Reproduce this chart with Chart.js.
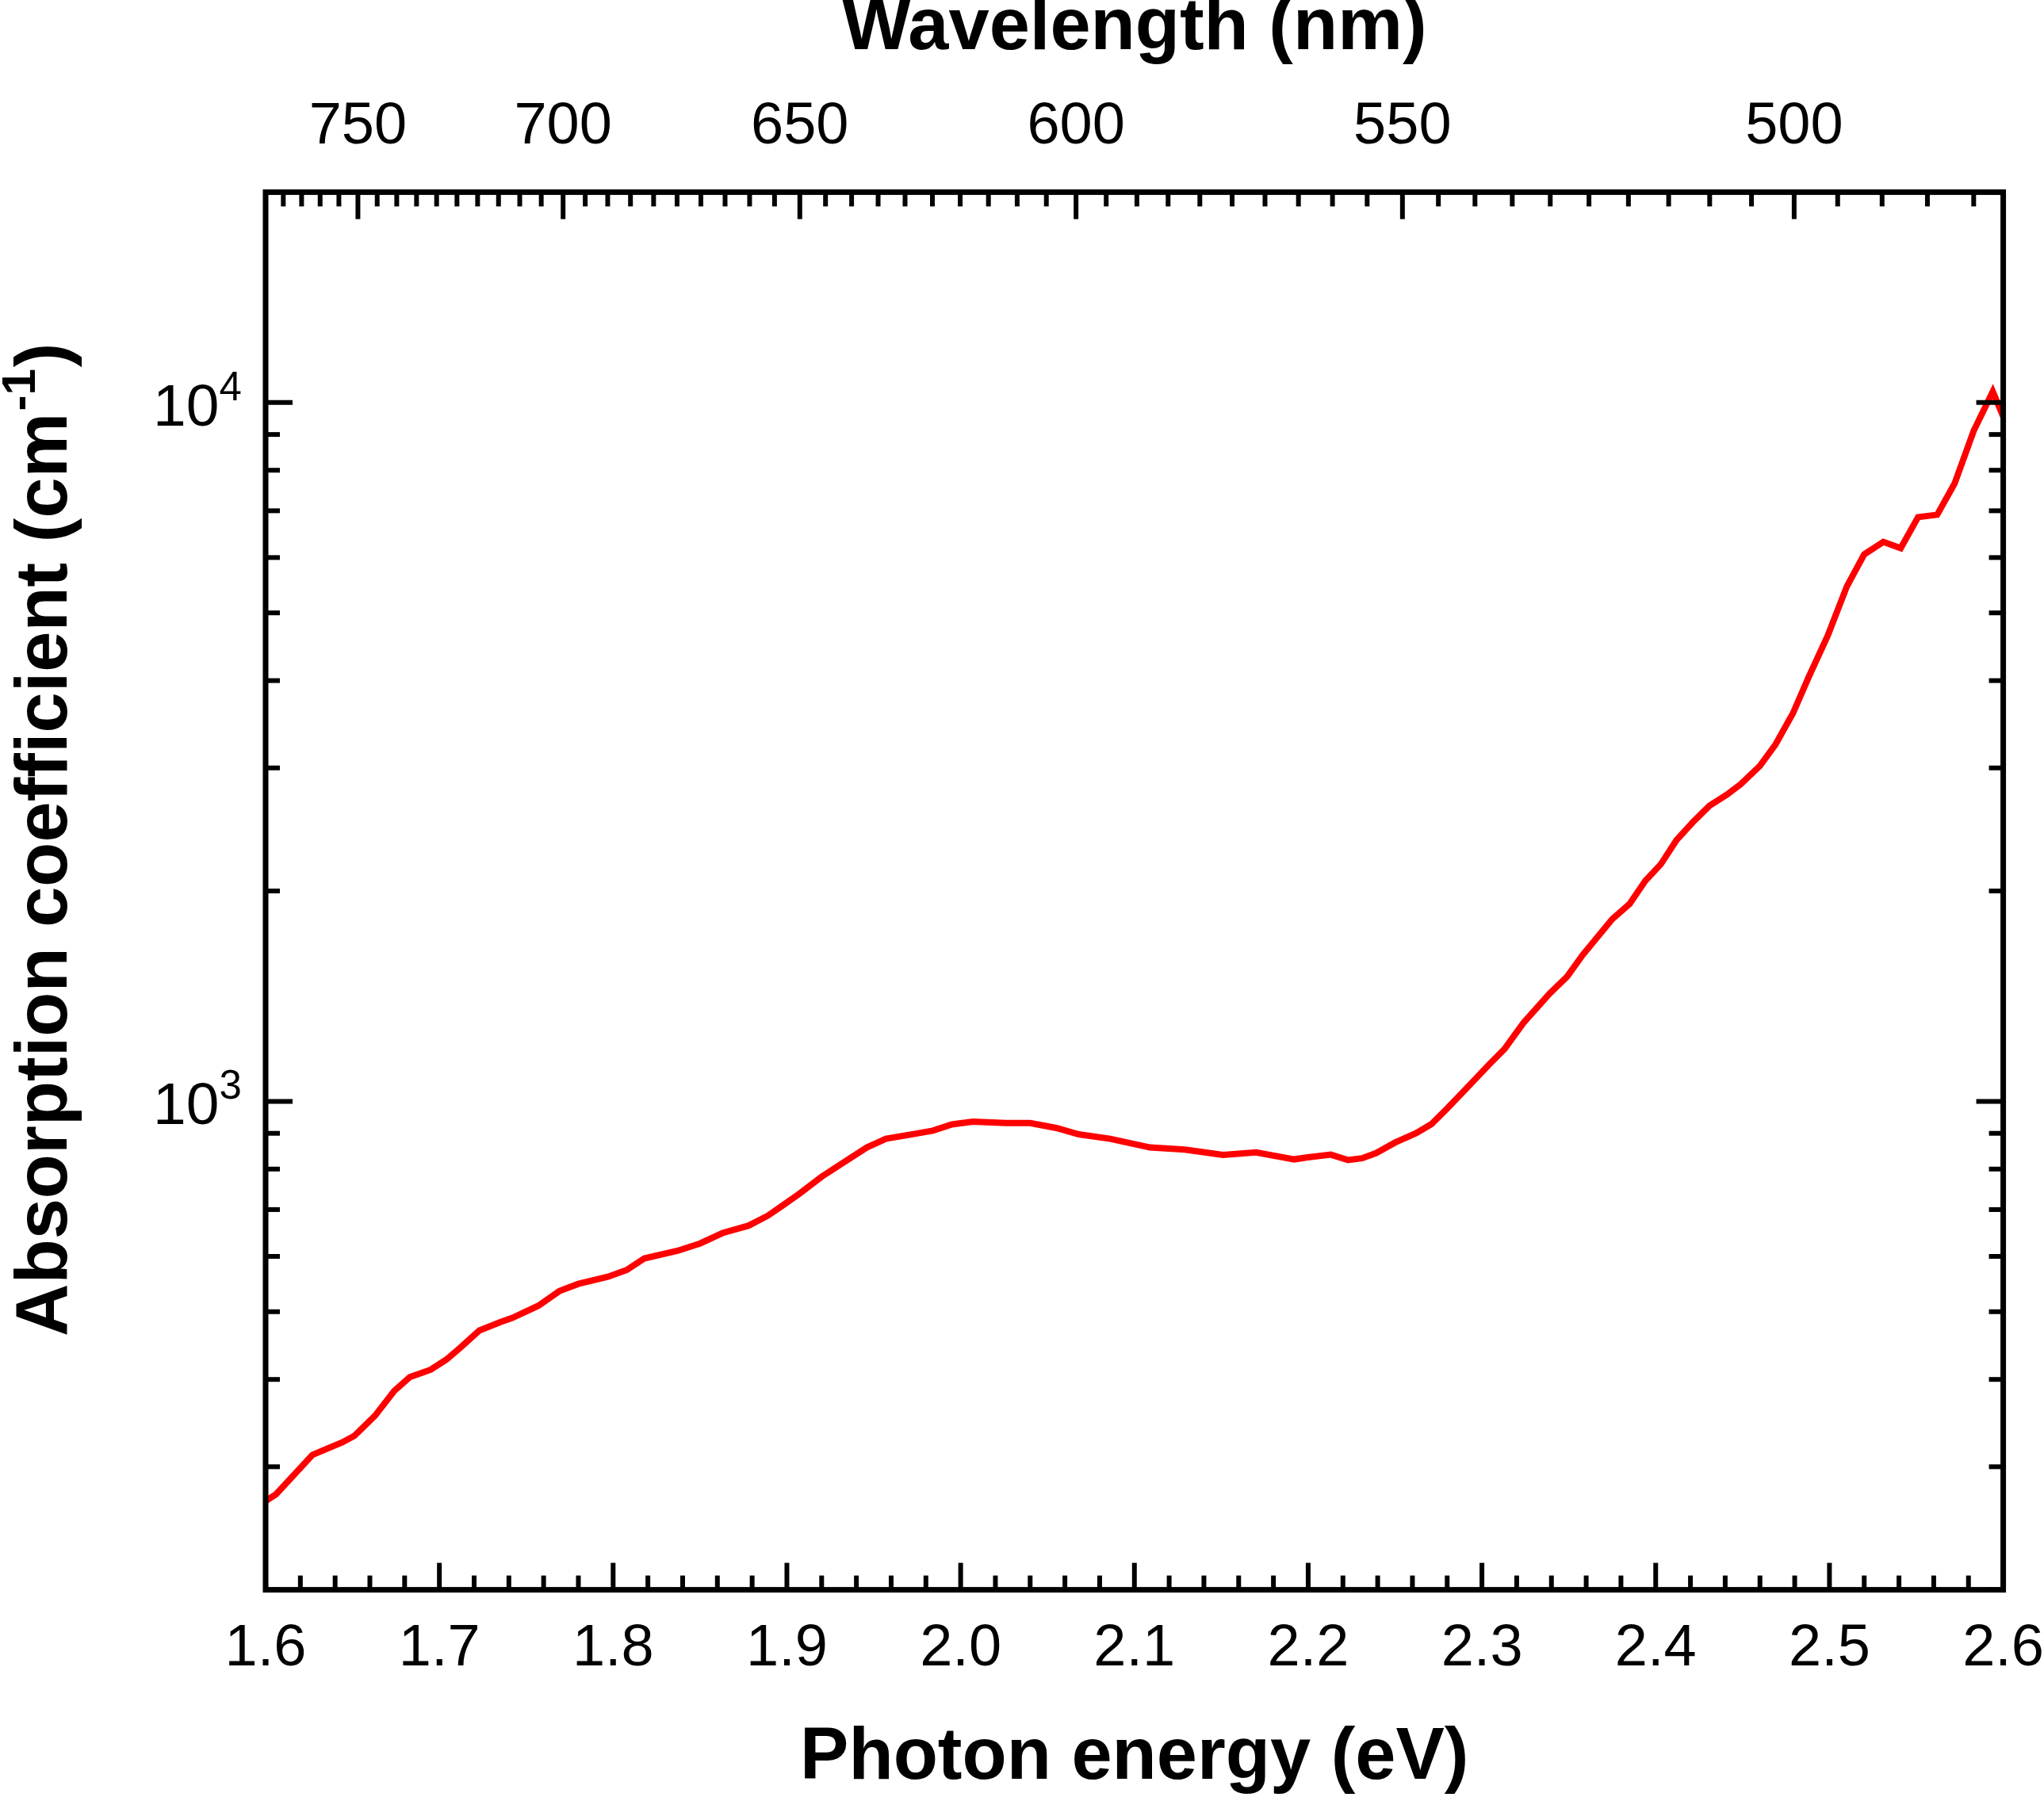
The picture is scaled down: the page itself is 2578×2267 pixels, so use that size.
<!DOCTYPE html>
<html>
<head>
<meta charset="utf-8">
<script src="https://cdn.jsdelivr.net/npm/chart.js@4.4.1/dist/chart.umd.min.js"></script>
<style>
    html, body { margin: 0; padding: 0; background: #fff; overflow: hidden; }
    #wrap { width: 2609px; height: 2267px; }
</style>
</head>
<body>
<div id="wrap"><canvas id="absChart" width="2609" height="2267"></canvas></div>
<script>
// photon energy (eV) and absorption coefficient (cm^-1)
const energy = [
    1.600, 1.606, 1.627, 1.644, 1.651, 1.663, 1.674, 1.683, 1.695, 1.704,
    1.712, 1.723, 1.735, 1.742, 1.757, 1.769, 1.780, 1.797, 1.808, 1.818,
    1.837, 1.850, 1.863, 1.878, 1.889, 1.897, 1.907, 1.920, 1.935, 1.946,
    1.957, 1.973, 1.984, 1.995, 2.007, 2.026, 2.040, 2.055, 2.068, 2.086,
    2.109, 2.129, 2.151, 2.170, 2.192, 2.199, 2.213, 2.223, 2.231, 2.239,
    2.250, 2.262, 2.271, 2.280, 2.291, 2.304, 2.313, 2.324, 2.339, 2.349,
    2.358, 2.375, 2.385, 2.394, 2.403, 2.412, 2.422, 2.431, 2.441, 2.449,
    2.460, 2.469, 2.479, 2.488, 2.499, 2.510, 2.520, 2.531, 2.541, 2.551,
    2.562, 2.572, 2.583, 2.594, 2.600
];
const alpha = [
    268, 274, 312, 325, 332, 355, 385, 403, 413, 427,
    444, 470, 483, 490, 510, 535, 548, 561, 574, 596,
    611, 626, 648, 664, 686, 708, 737, 780, 825, 859,
    884, 898, 908, 927, 935, 931, 931, 916, 897, 884,
    859, 853, 838, 845, 826, 831, 839, 824, 829, 843,
    873, 900, 928, 977, 1043, 1128, 1188, 1296, 1427, 1508,
    1620, 1823, 1917, 2068, 2185, 2365, 2518, 2649, 2748, 2844,
    3020, 3242, 3592, 4044, 4638, 5455, 6064, 6318, 6189, 6855,
    6909, 7656, 9108, 10366, 9550
];

// axis ticks
const energyTicks = [1.6, 1.7, 1.8, 1.9, 2.0, 2.1, 2.2, 2.3, 2.4, 2.5, 2.6];
const wavelengthTicks = [750, 700, 650, 600, 550, 500];
const alphaTicks = [1000, 10000];
const alphaExp = ['3', '4'];

const HC = 1239.84; // eV*nm
const FONT = "'Liberation Sans', Arial, Helvetica, sans-serif";

// frame, inward ticks and the log-axis labels
const frameTicks = {
    id: 'frameTicks',
    afterDraw(chart) {
        const ctx = chart.ctx;
        const a = chart.chartArea;
        const xs = chart.scales.x;
        const ys = chart.scales.y;
        ctx.save();
        ctx.strokeStyle = '#000';
        ctx.lineWidth = 6;

        function line(x1, y1, x2, y2) {
            ctx.beginPath();
            ctx.moveTo(x1, y1);
            ctx.lineTo(x2, y2);
            ctx.stroke();
        }

        // bottom: energy, minor every 0.02
        for (let i = 0; i <= 50; i++) {
            const px = xs.getPixelForValue(1.6 + i * 0.02);
            const len = i % 5 === 0 ? 34 : 18;
            line(px, a.bottom, px, a.bottom - len);
        }
        // top: wavelength, minor every 5 nm
        for (let nm = 480; nm <= 775; nm += 5) {
            const e = HC / nm;
            if (e < 1.6 || e > 2.6) continue;
            const px = xs.getPixelForValue(e);
            const len = nm % 50 === 0 ? 34 : 18;
            line(px, a.top, px, a.top + len);
        }
        // left / right: log minor ticks
        [100, 1000, 10000].forEach(dec => {
            for (let m = 1; m <= 9; m++) {
                const v = m * dec;
                if (v < 200 || v > 20000) continue;
                const py = ys.getPixelForValue(v);
                const len = m === 1 ? 34 : 18;
                line(a.left, py, a.left + len, py);
                line(a.right, py, a.right - len, py);
            }
        });

        ctx.lineWidth = 7;
        ctx.strokeRect(a.left, a.top, a.right - a.left, a.bottom - a.top);

        // y tick labels 10^n
        ctx.fillStyle = '#000';
        ctx.textAlign = 'left';
        ctx.textBaseline = 'alphabetic';
        alphaTicks.forEach((v, i) => {
            const py = ys.getPixelForValue(v);
            ctx.font = '75px ' + FONT;
            ctx.fillText('10', 193, py + 29);
            const w = ctx.measureText('10').width;
            ctx.font = '51px ' + FONT;
            ctx.fillText(alphaExp[i], 193 + w, py - 3);
        });

        // y title, rotated, with superscript
        ctx.translate(84, 1686);
        ctx.rotate(-Math.PI / 2);
        const main = 'Absorption coefficient (cm';
        ctx.font = 'bold 92px ' + FONT;
        ctx.fillText(main, 0, 0);
        let off = ctx.measureText(main).width;
        ctx.font = 'bold 60px ' + FONT;
        ctx.fillText('-1', off + 2, -40);
        off += ctx.measureText('-1').width + 4;
        ctx.font = 'bold 92px ' + FONT;
        ctx.fillText(')', off, 0);

        ctx.restore();
    }
};

const ctx = document.getElementById('absChart');
new Chart(ctx, {
    type: 'line',
    data: {
        datasets: [{
            data: energy.map((e, i) => ({ x: e, y: alpha[i] })),
            borderColor: '#ff0000',
            borderWidth: 8,
            pointRadius: 0,
            tension: 0,
            fill: false
        }]
    },
    options: {
        responsive: false,
        devicePixelRatio: 1,
        animation: false,
        layout: { padding: { left: 335, right: 0, top: 0, bottom: 0 } },
        plugins: {
            legend: { display: false },
            tooltip: { enabled: false }
        },
        scales: {
            x: {
                type: 'linear',
                position: 'bottom',
                min: 1.6,
                max: 2.6,
                afterBuildTicks: axis => { axis.ticks = energyTicks.map(v => ({ value: v })); },
                grid: { display: false, drawTicks: false },
                border: { display: false },
                ticks: {
                    autoSkip: false,
                    maxRotation: 0,
                    padding: 31,
                    color: '#000',
                    font: { family: FONT, size: 74 },
                    callback: v => v.toFixed(1)
                },
                title: {
                    display: true,
                    text: 'Photon energy (eV)',
                    color: '#000',
                    font: { family: FONT, size: 92, weight: 'bold', lineHeight: 1.05 },
                    padding: { top: 14, bottom: 0 }
                }
            },
            x2: {
                type: 'linear',
                position: 'top',
                min: 1.6,
                max: 2.6,
                afterBuildTicks: axis => { axis.ticks = wavelengthTicks.map(nm => ({ value: HC / nm })); },
                grid: { display: false, drawTicks: false },
                border: { display: false },
                ticks: {
                    autoSkip: false,
                    maxRotation: 0,
                    padding: 37,
                    color: '#000',
                    font: { family: FONT, size: 74 },
                    callback: v => Math.round(HC / v)
                },
                title: {
                    display: true,
                    text: 'Wavelength (nm)',
                    color: '#000',
                    font: { family: FONT, size: 92, weight: 'bold', lineHeight: 0.8 },
                    padding: { top: 0, bottom: 6 }
                }
            },
            y: {
                type: 'logarithmic',
                display: false,
                min: 200,
                max: 20000
            }
        }
    },
    plugins: [frameTicks]
});
</script>
</body>
</html>
